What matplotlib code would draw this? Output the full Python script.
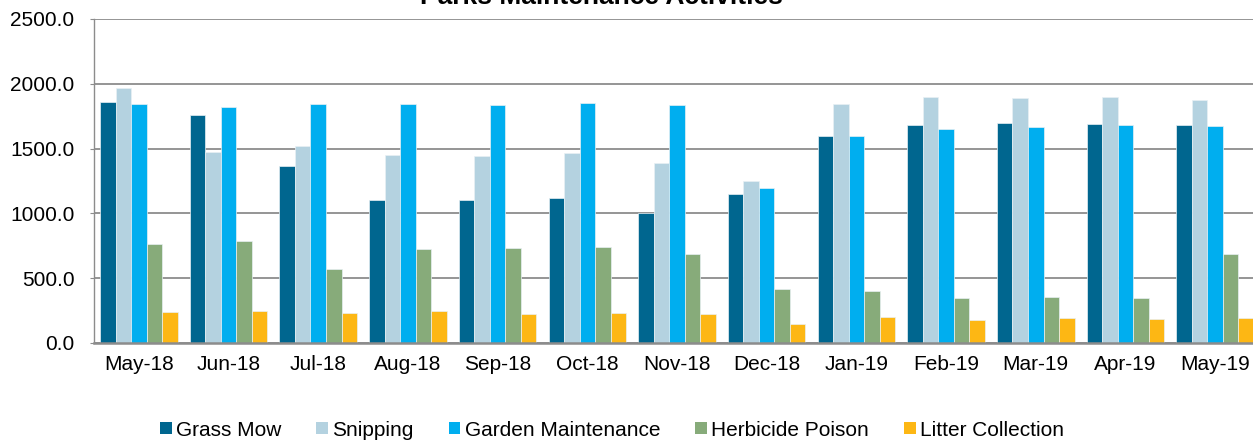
import matplotlib
matplotlib.use("Agg")
import matplotlib.pyplot as plt
from matplotlib.patches import Patch
import numpy as np

plt.rcParams['font.family'] = ['Liberation Sans', 'DejaVu Sans']

months = ["May-18", "Jun-18", "Jul-18", "Aug-18", "Sep-18", "Oct-18", "Nov-18",
          "Dec-18", "Jan-19", "Feb-19", "Mar-19", "Apr-19", "May-19"]
grass_mow = [1862, 1759, 1366, 1101, 1106, 1119, 1003, 1150, 1600, 1680, 1698, 1690, 1685]
snipping = [1968, 1471, 1520, 1451, 1443, 1466, 1389, 1250, 1847, 1898, 1888, 1898, 1877]
garden_maintenance = [1847, 1819, 1847, 1842, 1836, 1854, 1834, 1199, 1600, 1649, 1669, 1680, 1674]
herbicide_poison = [766, 787, 571, 725, 731, 738, 684, 419, 401, 350, 355, 345, 684]
litter_collection = [239, 249, 229, 249, 224, 229, 221, 147, 201, 180, 190, 185, 190]

series = [
    ("Grass Mow", grass_mow, "#00668F"),
    ("Snipping", snipping, "#B4D2E0"),
    ("Garden Maintenance", garden_maintenance, "#00AEEF"),
    ("Herbicide Poison", herbicide_poison, "#87AB7A"),
    ("Litter Collection", litter_collection, "#FDB714"),
]

W, H = 1253, 443
fig = plt.figure(figsize=(W / 100, H / 100), dpi=100)
ax = fig.add_axes([94 / W, (H - 343) / H, (1260 - 94) / W, 324 / H])

x = np.arange(len(months))
bw = 0.173
for i, (name, vals, col) in enumerate(series):
    ax.bar(x + (i - 2) * bw, vals, width=bw, color=col, edgecolor="#e8f0f4",
           linewidth=0.5, zorder=3)

ax.set_xlim(-0.5, len(months) - 0.5)
ax.set_ylim(0, 2500)
ax.set_yticks(np.arange(0, 2501, 500))
ax.set_yticklabels([f"{v:.1f}" for v in np.arange(0, 2501, 500)])
ax.set_xticks(x)
ax.set_xticklabels(months)
ax.yaxis.grid(True, color="#8c8c8c", linewidth=1.3, zorder=0)
ax.set_axisbelow(True)
for s in ["top", "right"]:
    ax.spines[s].set_visible(False)
ax.spines["left"].set_color("#8c8c8c")
ax.spines["left"].set_linewidth(1.0)
ax.spines["bottom"].set_color("#8c8c8c")
ax.spines["bottom"].set_linewidth(1.8)
ax.spines["bottom"].set_zorder(4)
ax.tick_params(axis="y", labelsize=15, length=3, color="#8c8c8c", pad=11)
ax.tick_params(axis="x", labelsize=15, length=0, pad=9)

fig.text(601 / W, 1 - 3.5 / H, "Parks Maintenance Activities", ha="center",
         va="baseline", fontsize=19, fontweight="bold")

handles = [Patch(facecolor=c, edgecolor="none", label=n) for n, _, c in series]
fig.legend(handles=handles, loc="center", bbox_to_anchor=(612 / W, 1 - 430 / H),
           ncol=5, frameon=False, fontsize=15, handlelength=0.56,
           handleheight=0.56, handletextpad=0.21, columnspacing=1.68,
           borderpad=0, borderaxespad=0)

fig.savefig("out.png", dpi=100)
